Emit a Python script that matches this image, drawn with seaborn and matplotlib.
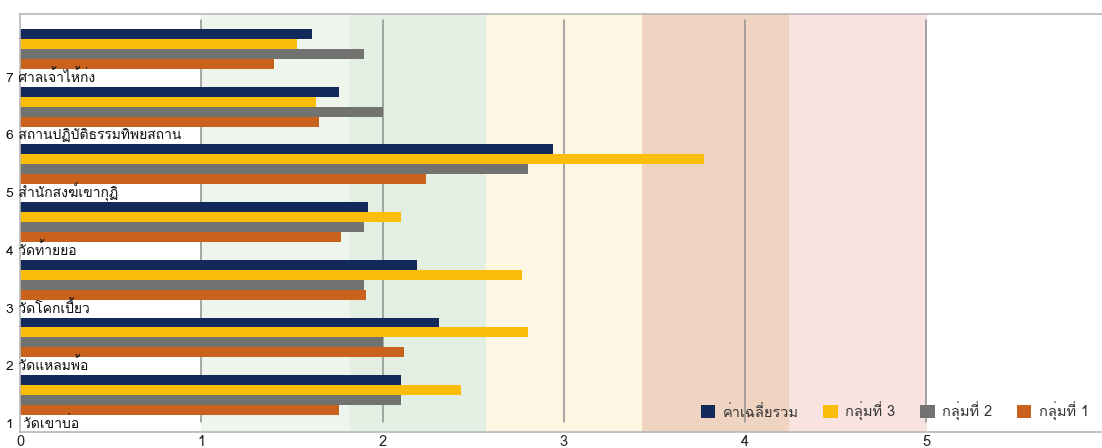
"""Horizontal grouped bars: mean scores per site, by visitor group."""

import matplotlib

matplotlib.use("Agg")
import matplotlib.pyplot as plt
import pandas as pd
import seaborn as sns
from matplotlib.patches import Patch

# ───────────────────────── data ─────────────────────────

places = [
    "1  วัดเขาบ่อ",
    "2 วัดแหลมพ้อ",
    "3 วัดโคกเปี้ยว",
    "4 วัดท้ายยอ",
    "5 สำนักสงฆ์เขากุฏิ",
    "6 สถานปฏิบัติธรรมทิพยสถาน",
    "7 ศาลเจ้าไห้ก่ง",
]
series_names = ["ค่าเฉลี่ยรวม", "กลุ่มที่ 3", "กลุ่มที่ 2", "กลุ่มที่ 1"]
avg_all = [2.10, 2.31, 2.19, 1.92, 2.94, 1.76, 1.61]
group3 = [2.43, 2.80, 2.77, 2.10, 3.77, 1.63, 1.53]
group2 = [2.10, 2.00, 1.90, 1.90, 2.80, 2.00, 1.90]
group1 = [1.76, 2.12, 1.91, 1.77, 2.24, 1.65, 1.40]
x_ticks = [0, 1, 2, 3, 4, 5]

# background bands (start, end, colour)
bands = [
    (1.00, 1.82, "#eef5ec"),
    (1.82, 2.57, "#e4efe4"),
    (2.57, 3.43, "#fdf6e3"),
    (3.43, 4.24, "#f0d4c2"),
    (4.24, 5.00, "#f9e3e1"),
]
colors = ["#12295a", "#f9bd0a", "#727270", "#c8621c"]

df = pd.DataFrame({"place": places, series_names[0]: avg_all,
                   series_names[1]: group3, series_names[2]: group2,
                   series_names[3]: group1})
long = df.melt(id_vars="place", var_name="group", value_name="score")

sns.set_theme(style="white")
# Loma carries the Thai glyphs; DejaVu covers the rest
plt.rcParams["font.family"] = ["Loma", "DejaVu Sans"]

fig = plt.figure(figsize=(11.02, 4.48), dpi=100)
ax = fig.add_axes([20 / 1102, 16 / 448, 1 - 20 / 1102, 418 / 448])

for lo, hi, c in bands:
    ax.axvspan(lo, hi, color=c, lw=0, zorder=0)
for x in x_ticks[1:]:
    ax.axvline(x, ymin=0.024, ymax=0.986, color="#8f8f8f", lw=1.1, zorder=0.5)

# top category is 7, so draw in reverse order
order = places[::-1]
sns.barplot(data=long, y="place", x="score", hue="group", order=order,
            hue_order=series_names, palette=colors, orient="h", width=0.69,
            saturation=1, legend=False, linewidth=0, ax=ax, zorder=2)

ax.set_xlim(0, 1082 / 181.3)
ax.set_ylim(6.64, -0.607)
ax.set_xticks(x_ticks)
ax.set_xticklabels([str(t) for t in x_ticks], fontsize=10.5, color="#222222")
# site names sit just under each group of bars, starting left of the axis
ax.set_yticks([i + 0.46 for i in range(len(order))])
ax.set_yticklabels(order, fontsize=10, color="#111111")
for lab in ax.get_yticklabels():
    lab.set_horizontalalignment("left")
ax.tick_params(axis="y", length=0, pad=10)
ax.tick_params(axis="x", length=0, pad=2)
# keep the labels (and their tone marks) above the bars
ax.xaxis.set_zorder(3)
ax.yaxis.set_zorder(3)
ax.set_xlabel("")
ax.set_ylabel("")

for side in ["top", "bottom", "left"]:
    ax.spines[side].set_color("#b8b8b8")
    ax.spines[side].set_linewidth(1.2)
ax.spines["right"].set_visible(False)

handles = [Patch(facecolor=c, edgecolor="none") for c in colors]
ax.legend(handles, series_names, ncol=4, loc="lower right",
          bbox_to_anchor=(1.0, -0.005), frameon=False, fontsize=10.5,
          handlelength=1.0, handleheight=1.0, handletextpad=0.5,
          columnspacing=1.7, labelcolor="#333333")

fig.savefig("out.png", dpi=100)
